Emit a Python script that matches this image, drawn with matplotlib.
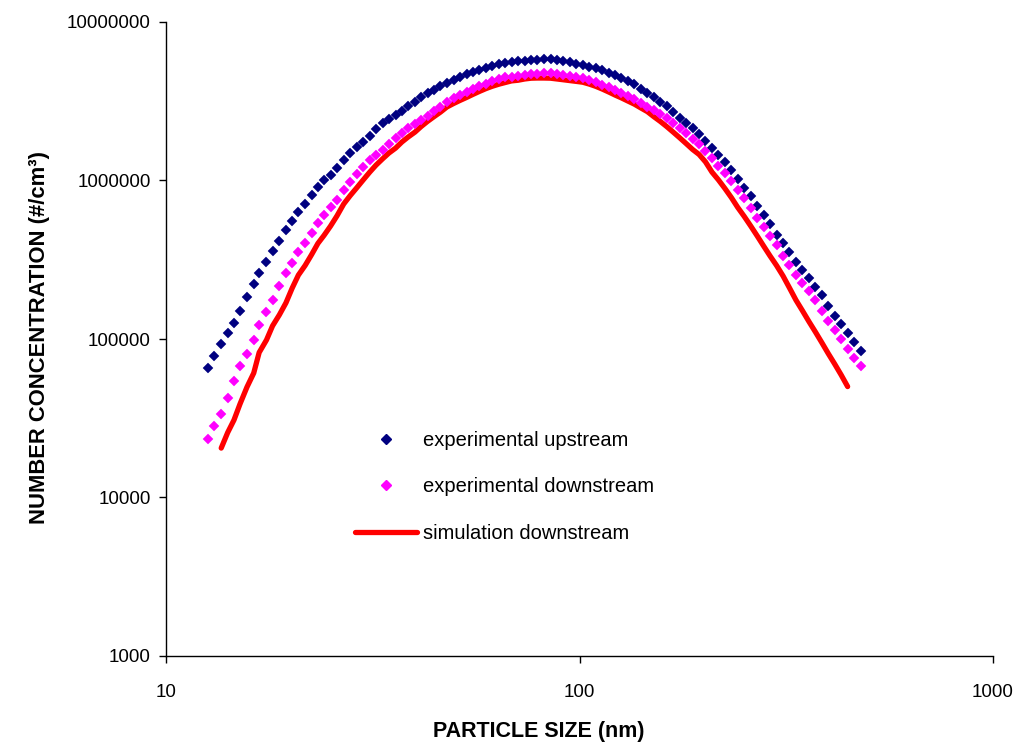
import matplotlib
matplotlib.use("Agg")
import matplotlib.pyplot as plt
from matplotlib.ticker import FixedLocator, FixedFormatter, NullLocator
from matplotlib.lines import Line2D
from matplotlib import font_manager

# SMPS channel midpoint diameters (nm), 64 channels per decade
diameter = [
    12.6, 13.1, 13.6, 14.1, 14.6, 15.1, 15.7, 16.3, 16.8, 17.5,
    18.1, 18.8, 19.5, 20.2, 20.9, 21.7, 22.5, 23.3, 24.1, 25.0,
    25.9, 26.9, 27.9, 28.9, 30.0, 31.1, 32.2, 33.4, 34.6, 35.9,
    37.2, 38.5, 40.0, 41.4, 42.9, 44.5, 46.1, 47.8, 49.6, 51.4,
    53.3, 55.2, 57.3, 59.4, 61.5, 63.8, 66.1, 68.5, 71.0, 73.7,
    76.4, 79.1, 82.0, 85.1, 88.2, 91.4, 94.7, 98.2, 101.8, 105.5,
    109.4, 113.4, 117.6, 121.9, 126.3, 131.0, 135.8, 140.7, 145.9, 151.2,
    156.8, 162.5, 168.5, 174.7, 181.1, 187.7, 194.6, 201.7, 209.1, 216.7,
    224.7, 232.9, 241.4, 250.3, 259.5, 269.0, 278.8, 289.0, 299.6, 310.6,
    322.0, 333.8, 346.0, 358.7, 371.8, 385.4, 399.5, 414.2, 429.4, 445.1,
    461.4, 478.3,
]

# Measured number concentration upstream of the filter (#/cm^3)
upstream = [
    66000, 78600, 92700, 109000, 127000, 151000, 185000, 222000, 262000, 308000,
    357000, 418000, 484000, 555000, 632000, 708000, 809000, 912000, 1010000, 1090000,
    1200000, 1340000, 1490000, 1620000, 1750000, 1920000, 2100000, 2290000, 2430000, 2580000,
    2760000, 2950000, 3140000, 3350000, 3550000, 3750000, 3940000, 4120000, 4310000, 4500000,
    4670000, 4840000, 4970000, 5100000, 5250000, 5400000, 5500000, 5580000, 5640000, 5680000,
    5720000, 5780000, 5820000, 5820000, 5750000, 5690000, 5580000, 5470000, 5340000, 5210000,
    5100000, 4950000, 4790000, 4630000, 4430000, 4240000, 4040000, 3800000, 3590000, 3360000,
    3150000, 2940000, 2700000, 2490000, 2300000, 2130000, 1960000, 1770000, 1600000, 1440000,
    1300000, 1160000, 1020000, 903000, 793000, 695000, 606000, 528000, 456000, 401000,
    356000, 308000, 272000, 244000, 214000, 190000, 161000, 140000, 125000, 109000,
    95800, 83900,
]

# Measured number concentration downstream of the filter (#/cm^3)
downstream = [
    23400, 28300, 33700, 42300, 54700, 67300, 80900, 99100, 122000, 149000,
    177000, 216000, 259000, 300000, 352000, 405000, 469000, 536000, 610000, 678000,
    755000, 869000, 979000, 1100000, 1220000, 1340000, 1440000, 1560000, 1700000, 1850000,
    2000000, 2130000, 2280000, 2420000, 2570000, 2740000, 2930000, 3120000, 3320000, 3460000,
    3600000, 3760000, 3930000, 4070000, 4230000, 4340000, 4470000, 4530000, 4570000, 4630000,
    4690000, 4720000, 4750000, 4750000, 4700000, 4640000, 4580000, 4510000, 4430000, 4290000,
    4170000, 4030000, 3870000, 3720000, 3570000, 3410000, 3250000, 3080000, 2930000, 2770000,
    2620000, 2470000, 2300000, 2140000, 1990000, 1840000, 1710000, 1530000, 1390000, 1230000,
    1110000, 993000, 877000, 770000, 671000, 584000, 509000, 447000, 389000, 334000,
    291000, 253000, 225000, 200000, 176000, 150000, 130000, 114000, 99300, 87100,
    76400, 67600,
]

# Simulated downstream concentration, channels 13.6 nm .. 445.1 nm
sim_diameter = diameter[2:-2]
simulation = [
    20500, 25700, 30800, 38900, 49800, 61000, 82200, 98600, 121000, 142000,
    169000, 210000, 253000, 291000, 341000, 401000, 450000, 516000, 597000, 711000,
    804000, 897000, 1010000, 1130000, 1250000, 1370000, 1490000, 1600000, 1750000, 1880000,
    2020000, 2190000, 2360000, 2530000, 2700000, 2910000, 3060000, 3200000, 3340000, 3490000,
    3650000, 3800000, 3930000, 4050000, 4150000, 4250000, 4290000, 4370000, 4420000, 4430000,
    4430000, 4420000, 4370000, 4320000, 4270000, 4220000, 4170000, 4060000, 3930000, 3780000,
    3620000, 3460000, 3320000, 3170000, 3030000, 2870000, 2720000, 2530000, 2360000, 2190000,
    2020000, 1860000, 1710000, 1570000, 1460000, 1310000, 1130000, 1010000, 891000, 781000,
    676000, 593000, 516000, 447000, 386000, 334000, 291000, 250000, 210000, 176000,
    151000, 129000, 111000, 95000, 81000, 69500, 59300, 50100,
]

x_ticks = [10, 100, 1000]
x_tick_labels = ["10", "100", "1000"]
y_ticks = [1000, 10000, 100000, 1000000, 10000000]
y_tick_labels = ["1000", "10000", "100000", "1000000", "10000000"]

labels = ["experimental upstream", "experimental downstream", "simulation downstream"]

plt.rcParams["font.family"] = ["Liberation Sans", "DejaVu Sans"]

# Condensed bold face for the axis titles, if the narrow family is present
installed = {f.name for f in font_manager.fontManager.ttflist}
if "Liberation Sans Narrow" in installed:
    title_family = ["Liberation Sans Narrow", "Liberation Sans", "DejaVu Sans"]
    title_size = 18.5
else:
    title_family = ["Liberation Sans", "DejaVu Sans"]
    title_size = 15.5

W, H = 1023, 749
fig = plt.figure(figsize=(W / 100, H / 100), dpi=100)
ax = fig.add_axes([166 / W, 1 - 656 / H, (993 - 166) / W, (656 - 22) / H])

navy = "#000080"
magenta = "#FF00FF"
red = "#FF0000"

ax.plot(sim_diameter, simulation, color=red, lw=3.8, solid_capstyle="round",
        solid_joinstyle="round", zorder=2)
ax.plot(diameter, upstream, ls="none", marker="D", ms=5.6, color=navy,
        mec=navy, mew=0.3, zorder=3)
ax.plot(diameter, downstream, ls="none", marker="D", ms=5.6, color=magenta,
        mec=magenta, mew=0.3, zorder=4)

ax.set_xscale("log")
ax.set_yscale("log")
ax.set_xlim(10, 1000)
ax.set_ylim(1000, 10000000)

ax.xaxis.set_major_locator(FixedLocator(x_ticks))
ax.xaxis.set_major_formatter(FixedFormatter(x_tick_labels))
ax.xaxis.set_minor_locator(NullLocator())
ax.yaxis.set_major_locator(FixedLocator(y_ticks))
ax.yaxis.set_major_formatter(FixedFormatter(y_tick_labels))
ax.yaxis.set_minor_locator(NullLocator())

for side in ("top", "right"):
    ax.spines[side].set_visible(False)
for side in ("left", "bottom"):
    ax.spines[side].set_linewidth(1.0)
    ax.spines[side].set_color("black")

ax.tick_params(axis="x", direction="out", length=5, width=1, pad=15,
               labelsize=13.5)
ax.tick_params(axis="y", direction="out", length=5, width=1, pad=6,
               labelsize=13.5)

ax.set_xlabel("PARTICLE SIZE (nm)", fontsize=title_size, fontweight="bold",
              family=title_family)
ax.xaxis.set_label_coords((539 - 166) / 827, (656 - 731) / 634)
ax.xaxis.label.set_va("center")
ax.set_ylabel("NUMBER CONCENTRATION (#/cm³)", fontsize=title_size + 0.3,
              fontweight="bold", family=title_family)
ax.yaxis.set_label_coords((40 - 166) / 827, (656 - 338) / 634)
ax.yaxis.label.set_va("center")

handles = [
    Line2D([], [], ls="none", marker="D", ms=5.0, color=navy, mec=navy),
    Line2D([], [], ls="none", marker="D", ms=5.0, color=magenta, mec=magenta),
    Line2D([], [], color=red, lw=3.8, solid_capstyle="round"),
]
leg = ax.legend(handles, labels, loc="upper left",
                bbox_to_anchor=(355 / W, 1 - 431 / H),
                bbox_transform=fig.transFigure, frameon=False,
                fontsize=14.5, handlelength=3.1, handletextpad=0.27,
                labelspacing=1.36, borderpad=0, borderaxespad=0)

fig.savefig("out.png", dpi=100)
